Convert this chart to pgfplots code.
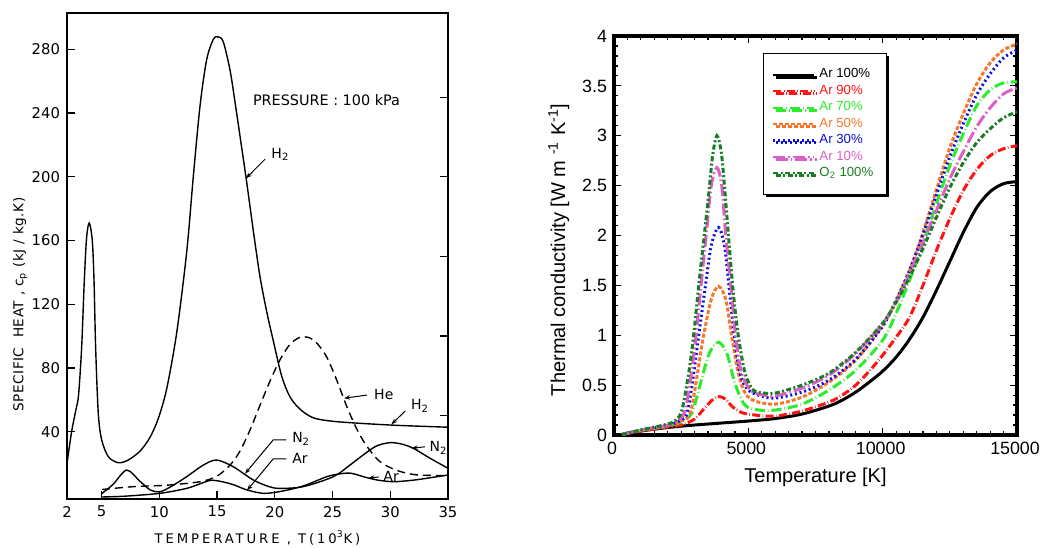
\documentclass[border=0pt]{standalone}
\usepackage{fontspec}
\setmainfont{Liberation Sans}
\newfontfamily\leroy{DejaVu Sans}
\newfontfamily\leroywide[LetterSpace=22]{DejaVu Sans}
\newfontfamily\leroymid[LetterSpace=4]{DejaVu Sans}
\usepackage{pgfplots}
\pgfplotsset{compat=1.18}
\usetikzlibrary{arrows.meta,shadows}
\definecolor{arred}{RGB}{255,20,20}
\definecolor{argreen}{RGB}{45,235,45}
\definecolor{arorange}{RGB}{245,120,45}
\definecolor{arblue}{RGB}{15,15,215}
\definecolor{armag}{RGB}{220,95,200}
\definecolor{otgreen}{RGB}{25,125,35}
\begin{document}
\begin{tikzpicture}
\useasboundingbox (0,0) rectangle (520pt,273.5pt);
% ---------------- left panel ----------------
\begin{axis}[
  at={(33.5pt,24pt)}, anchor=south west,
  scale only axis, width=190.5pt, height=243pt,
  xmin=2, xmax=35, ymin=-2.26, ymax=302.8,
  xtick={2,5,10,15,20,25,30,35},
  ytick={40,80,120,160,200,240,280},
  xtick pos=lower, ytick pos=left,
  tick align=inside, major tick length=4pt,
  axis line style={line width=0.6pt},
  tick style={line width=0.6pt, black},
  /pgf/number format/assume math mode=true,
  tick label style={font=\leroy\fontsize{7.4}{8}\selectfont},
  xlabel={TEMPERATURE , T(10\textsuperscript{3}K)},
  ylabel={SPECIFIC\ \ HEAT , c\textsubscript{p} (kJ / kg.K)},
  xlabel style={font=\leroywide\fontsize{6.6}{8}\selectfont, at={(axis description cs:0.5,-0.08)}, anchor=center},
  ylabel style={font=\leroymid\fontsize{6.8}{8}\selectfont, at={(axis description cs:-0.123,0.40)}, anchor=center},
  clip=false,
]
\addplot[black, line width=0.7pt, smooth] coordinates {
(2,20) (2.4,40) (2.75,53) (3.0,63) (3.27,93) (3.5,135) (3.7,162) (3.93,171) (4.19,160) (4.34,135) (4.48,93) (4.71,51.5) (5.0,35) (5.58,24.3) (6.44,20.5) (7.3,22.2) (8.34,27.9) (9.2,36.6) (9.93,48.7) (10.65,67.4) (11.51,102.5) (12.37,152.9) (12.95,201) (13.53,245) (14.1,273.6) (14.68,286.3) (15.11,287.8) (15.54,284.6) (16.12,267) (16.55,247) (16.99,225.3) (17.56,196.8) (18.14,166) (18.71,137.6) (19.29,115.6) (19.87,97) (20.59,75) (21.31,61.9) (22.17,54.2) (23.33,48.7) (25.05,46.5) (27.94,45) (30.82,43.9) (35,42.8)};
\addplot[black, line width=0.7pt, smooth, dash pattern=on 4pt off 2.5pt] coordinates {
(5.03,3.7) (7.76,5.5) (10.65,6.4) (13.53,8.6) (14.97,12) (16.12,19) (16.99,27.9) (17.85,41) (18.71,56.4) (19.58,71.7) (20.44,85) (21.31,94.8) (22.17,99.2) (22.9,99.2) (23.6,95.9) (24.48,87.1) (25.34,72.8) (26.2,56.4) (27.07,42.1) (27.94,31.2) (29.09,21.3) (30.53,15.8) (32.26,12.9) (35,12.5)};
\addplot[black, line width=0.7pt, smooth] coordinates {
(5.0,1) (6,7) (7.17,15.9) (8.3,9) (9.2,3.5) (10.05,2.3) (11,5.5) (12.36,11.7) (13.8,19) (14.96,22.2) (16.4,18) (18.13,9.7) (19.5,5.5) (20.44,4.4) (22.46,5.5) (25.06,11.7) (26.5,19) (27.66,25.4) (28.8,31) (29.97,33.1) (31.0,32.2) (31.98,29.6) (33.45,23.3) (35,17)};
\addplot[black, line width=0.7pt, smooth] coordinates {
(5.0,-1) (7,-0.5) (10.05,1.3) (12.36,4.4) (13.6,7.5) (14.5,9.5) (15.5,8.5) (16.5,6.5) (17.56,3.5) (19,1.3) (20.5,2.5) (22.46,5.9) (24.48,11.7) (25.6,13.5) (26.5,14) (27.2,12.8) (27.94,11.2) (29,9.5) (30.25,8.6) (31.5,9.2) (32.56,10.1) (35,12.8)};
% annotations
\tikzset{lead/.style={-{Stealth[length=3pt,width=2.2pt]}, line width=0.5pt, black}}
\node[anchor=west, font=\leroy\fontsize{7.2}{8}\selectfont] at (axis cs:17.5,248) {PRESSURE : 100 kPa};
\draw[lead] (axis cs:19.15,211) -- (axis cs:17.5,199);
\node[anchor=west, font=\leroy\fontsize{7}{8}\selectfont] at (axis cs:19.1,214) {H\textsubscript{2}};
\draw[lead] (axis cs:28.0,63) -- (axis cs:26.0,61);
\node[anchor=west, font=\leroy\fontsize{7}{8}\selectfont] at (axis cs:28.0,63.5) {He};
\draw[lead] (axis cs:31.3,53) -- (axis cs:30.1,44.6);
\node[anchor=west, font=\leroy\fontsize{7}{8}\selectfont] at (axis cs:31.2,56) {H\textsubscript{2}};
\draw[lead] (axis cs:21.0,34.9) -- (axis cs:19.87,34.9) -- (axis cs:17.42,13.6);
\node[anchor=west, font=\leroy\fontsize{7}{8}\selectfont] at (axis cs:20.9,35.5) {N\textsubscript{2}};
\draw[lead] (axis cs:21.0,23) -- (axis cs:19.87,23) -- (axis cs:17.6,3.2);
\node[anchor=west, font=\leroy\fontsize{7}{8}\selectfont] at (axis cs:20.9,23.5) {Ar};
\draw[lead] (axis cs:33.0,30.5) -- (axis cs:31.85,29.6);
\node[anchor=west, font=\leroy\fontsize{7}{8}\selectfont] at (axis cs:32.8,30) {N\textsubscript{2}};
\draw[lead] (axis cs:29.0,11.6) -- (axis cs:28.1,10.8);
\node[anchor=west, font=\leroy\fontsize{7}{8}\selectfont] at (axis cs:28.8,11.8) {Ar};
\end{axis}
% right-hand ticks of left panel
\begin{axis}[
  at={(33.5pt,24pt)}, anchor=south west,
  scale only axis, width=190.5pt, height=243pt,
  xmin=2, xmax=35, ymin=-2.26, ymax=302.8,
  hide x axis, axis y line*=right,
  ytick={50,100,150,200,250}, yticklabels={},
  tick align=inside, major tick length=4pt,
  axis line style={line width=0.6pt, -},
  tick style={line width=0.6pt, black},
]
\end{axis}
% ---------------- right panel ----------------
\begin{axis}[
  at={(307pt,56pt)}, anchor=south west,
  scale only axis, width=201.5pt, height=199.5pt,
  xmin=0, xmax=15000, ymin=0, ymax=4,
  xtick={0,5000,10000,15000}, ytick={0,0.5,1,1.5,2,2.5,3,3.5,4},
  minor x tick num=9, minor y tick num=4,
  tick align=inside, major tick length=3.5pt, minor tick length=1.8pt,
  axis line style={line width=1.6pt},
  tick style={line width=0.6pt, black},
  scaled x ticks=false,
  /pgf/number format/1000 sep={},
  /pgf/number format/assume math mode=true,
  tick label style={font=\fontsize{8.9}{11}\selectfont},
  xticklabel style={xshift=-1pt},
  xlabel={Temperature [K]},
  ylabel={Thermal conductivity [W m \textsuperscript{-1} K\textsuperscript{-1}]},
  label style={font=\fontsize{10}{12}\selectfont},
  xlabel style={at={(axis description cs:0.5,-0.107)}, anchor=center},
  ylabel style={at={(axis description cs:-0.137,0.464)}, anchor=center},
  legend style={at={(0.369,0.957)}, anchor=north west,
    font=\fontsize{6.6}{7.5}\selectfont, draw=black, line width=0.6pt,
    fill=white, row sep=-1.9pt, inner xsep=4.5pt, inner ysep=5.5pt,
    drop shadow={shadow xshift=1.2pt, shadow yshift=-1.2pt, opacity=1, fill=black}},
  legend cell align=left,
  legend image code/.code={\draw[#1, line width=1.1pt] (0cm,0cm) -- (0.72cm,0cm);},
]
\addplot[black, line width=1.5pt, smooth] coordinates {
(300,0.005) (1000,0.04) (2000,0.075) (3000,0.10) (4000,0.12) (5000,0.14) (6000,0.165) (7000,0.21) (8000,0.29) (8500,0.35) (9000,0.43) (9500,0.53) (10000,0.64) (10500,0.78) (11000,0.96) (11500,1.18) (12000,1.45) (12500,1.74) (13000,2.03) (13500,2.28) (14000,2.44) (14500,2.52) (15000,2.54)};
\addlegendentry{Ar 100\%}
\addplot[arred, line width=1.5pt, smooth, dash pattern=on 4pt off 1.2pt on 0.3pt off 1.2pt] coordinates {
(300,0.005) (1000,0.04) (2000,0.08) (2500,0.10) (3000,0.16) (3400,0.28) (3700,0.36) (3920,0.385) (4150,0.36) (4400,0.285) (4750,0.225) (5250,0.20) (6000,0.19) (7000,0.24) (8000,0.33) (8500,0.40) (9000,0.50) (9500,0.64) (10000,0.80) (10500,0.98) (11000,1.18) (11500,1.50) (12000,1.85) (12500,2.17) (13000,2.45) (13500,2.66) (14000,2.80) (14500,2.87) (15000,2.90)};
\addlegendentry{\textcolor{arred}{Ar 90\%}}
\addplot[argreen, line width=1.5pt, smooth, dash pattern=on 5pt off 1.5pt on 0.3pt off 1.5pt] coordinates {
(300,0.005) (1000,0.045) (2000,0.09) (2500,0.13) (2900,0.22) (3200,0.50) (3550,0.82) (3890,0.93) (4200,0.82) (4500,0.52) (4870,0.30) (5400,0.25) (6000,0.25) (7000,0.31) (8000,0.45) (9000,0.65) (10000,0.95) (10500,1.22) (11000,1.55) (11500,1.92) (12000,2.32) (12500,2.70) (13000,3.02) (13500,3.30) (14000,3.46) (14500,3.53) (15000,3.54)};
\addlegendentry{\textcolor{argreen}{Ar 70\%}}
\addplot[arorange, line width=1.5pt, smooth, dash pattern=on 2pt off 1pt] coordinates {
(300,0.005) (1000,0.045) (2000,0.09) (2500,0.14) (2840,0.22) (3090,0.59) (3330,0.99) (3620,1.36) (3890,1.49) (4160,1.36) (4380,0.99) (4630,0.62) (4880,0.42) (5250,0.34) (6000,0.31) (7000,0.38) (8000,0.53) (9000,0.75) (10000,1.10) (10500,1.35) (11000,1.65) (11500,2.03) (12000,2.46) (12500,2.88) (13000,3.22) (13500,3.52) (14000,3.73) (14500,3.86) (15000,3.92)};
\addlegendentry{\textcolor{arorange}{Ar 50\%}}
\addplot[arblue, line width=1.5pt, smooth, dash pattern=on 1pt off 1.4pt] coordinates {
(300,0.005) (1000,0.05) (2000,0.095) (2500,0.15) (2720,0.22) (2930,0.55) (3150,0.99) (3400,1.49) (3620,1.90) (3890,2.08) (4110,1.90) (4280,1.49) (4480,0.99) (4690,0.62) (5000,0.45) (5500,0.39) (6000,0.37) (7000,0.43) (8000,0.55) (9000,0.76) (10000,1.09) (10500,1.35) (11000,1.65) (11500,2.01) (12000,2.41) (12500,2.79) (13000,3.12) (13500,3.41) (14000,3.62) (14500,3.78) (15000,3.86)};
\addlegendentry{\textcolor{arblue}{Ar 30\%}}
\addplot[armag, line width=1.5pt, smooth, dash pattern=on 6pt off 1.5pt on 0.8pt off 1.5pt] coordinates {
(300,0.005) (1000,0.05) (2000,0.10) (2400,0.15) (2650,0.25) (2880,0.62) (3050,0.99) (3235,1.49) (3430,2.00) (3620,2.50) (3830,2.68) (4010,2.50) (4160,2.00) (4350,1.49) (4530,0.99) (4750,0.62) (5120,0.44) (5600,0.40) (6000,0.39) (7000,0.47) (8000,0.60) (9000,0.82) (10000,1.12) (10500,1.33) (11000,1.62) (11500,1.93) (12000,2.25) (12500,2.57) (13000,2.84) (13500,3.09) (14000,3.28) (14500,3.42) (15000,3.48)};
\addlegendentry{\textcolor{armag}{Ar 10\%}}
\addplot[otgreen, line width=1.5pt, smooth, dash pattern=on 2.5pt off 1.2pt on 1pt off 1.2pt] coordinates {
(300,0.005) (1000,0.05) (2000,0.11) (2300,0.15) (2530,0.25) (2780,0.62) (2960,0.99) (3150,1.49) (3330,1.93) (3520,2.40) (3670,2.80) (3830,3.00) (3990,2.84) (4110,2.50) (4260,2.00) (4440,1.43) (4630,0.99) (4880,0.62) (5190,0.45) (5600,0.42) (6000,0.42) (7000,0.50) (8000,0.62) (9000,0.83) (10000,1.12) (10500,1.33) (11000,1.58) (11500,1.87) (12000,2.18) (12500,2.48) (13000,2.73) (13500,2.93) (14000,3.07) (14500,3.18) (15000,3.24)};
\addlegendentry{\textcolor{otgreen}{O\textsubscript{2} 100\%}}
\end{axis}
\end{tikzpicture}
\end{document}
